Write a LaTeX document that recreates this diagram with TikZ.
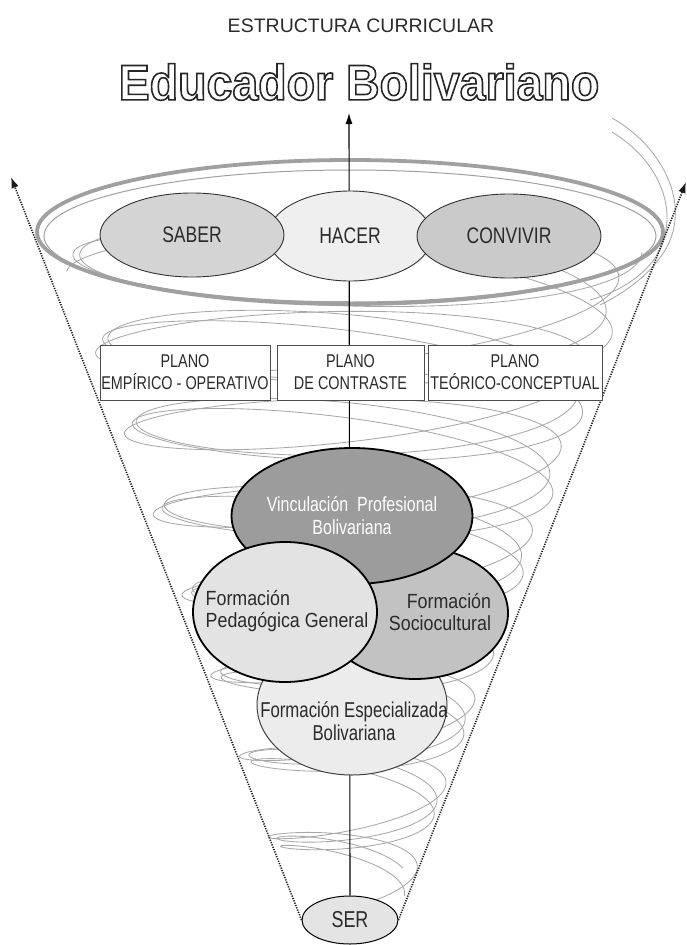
\documentclass[tikz,border=0pt]{standalone}
\usepackage{fontspec}
\setmainfont{Liberation Sans}
\newfontfamily\nar[FakeStretch=0.78]{Liberation Sans}
\newfontfamily\semi[FakeStretch=0.87]{Liberation Sans}
\newfontfamily\bigf[FakeStretch=0.93]{Liberation Sans}
\usetikzlibrary{shapes.geometric,arrows.meta}
\definecolor{txt}{HTML}{2B2B2B}
\definecolor{spc}{HTML}{A8A8A8}
\definecolor{ringc}{HTML}{A0A0A0}
\definecolor{saberc}{HTML}{D4D4D4}
\definecolor{hacerc}{HTML}{EFEFEF}
\definecolor{convc}{HTML}{CACACA}
\definecolor{vincc}{HTML}{9C9C9C}
\definecolor{pedc}{HTML}{E3E3E3}
\definecolor{socc}{HTML}{C2C2C2}
\definecolor{espc}{HTML}{ECECEC}
\definecolor{serc}{HTML}{E4E4E4}
\begin{document}
\begin{tikzpicture}[x=1pt,y=-1pt,
  declare function={hr(\t)=292-0.0825*\t; hy(\t)=232+0.2292*\t;},
  spir/.style={draw=spc, line width=0.85pt},
  topov/.style={ellipse, draw=black!80, line width=0.9pt, inner sep=0pt, text=txt,
     font=\nar\fontsize{22.5}{24}\selectfont},
  planbox/.style={rectangle, draw=black!70, line width=0.9pt, fill=white, inner sep=0pt,
     minimum height=55, align=center, text=txt, font=\nar\fontsize{18.5}{22}\selectfont},
  bigov/.style={ellipse, draw=black, line width=1.8pt, inner sep=0pt},
  lbl/.style={inner sep=0pt, text=txt, font=\semi\fontsize{20.5}{21.5}\selectfont},
  dotl/.style={draw=black!90, line width=1.6pt, dash pattern=on 1.2pt off 1.3pt,
     -{Latex[length=11pt,width=7.5pt]}},
  mainl/.style={draw=black, line width=1.1pt, -{Latex[length=11pt,width=7pt]}}
]
\useasboundingbox (0,0) rectangle (687,945);
\fill[white] (0,0) rectangle (687,945);

% spiral strands (tilted helices)
\draw[spir] plot[domain=0:2880, samples=700, smooth, variable=\t]
  ({350+hr(\t)*cos(\t)}, {hy(\t)+(0.17*hr(\t)+5)*sin(\t)+0.07*hr(\t)*cos(\t)});
\draw[spir] plot[domain=0:2800, samples=700, smooth, variable=\t]
  ({350+0.97*hr(\t)*cos(\t+180)}, {hy(\t)+22+(0.16*hr(\t)+5)*sin(\t+180)-0.06*hr(\t)*cos(\t+180)});
\draw[spir] plot[domain=0:2760, samples=700, smooth, variable=\t]
  ({350+0.95*hr(\t)*cos(\t+90)}, {hy(\t)+10+(0.19*hr(\t)+4)*sin(\t+90)+0.03*hr(\t)*cos(\t+90)});
\draw[spir] (612,118) .. controls (660,145) and (690,200) .. (668,245)
  .. controls (655,270) and (630,290) .. (600,305);
\draw[spir] (612,132) .. controls (655,158) and (680,205) .. (660,250)
  .. controls (648,272) and (625,290) .. (590,300);

% ring
\draw[ringc, line width=3.8pt] (350,232) ellipse [x radius=313, y radius=72];
\draw[ringc, line width=1pt] (350,236) ellipse [x radius=306, y radius=66];

% SER and axes
\node[ellipse, draw=black, line width=1pt, fill=serc, inner sep=0pt,
  minimum width=96, minimum height=48, text=txt,
  font=\nar\fontsize{23}{24}\selectfont] (ser) at (350,920) {SER};
\coordinate (tl) at (11,177);
\coordinate (tr) at (686,182);
\coordinate (tt) at (349,113);
\draw[dotl] (ser.west) -- (tl);
\draw[dotl] (ser.east) -- (tr);
\draw[mainl] (ser.north) -- (tt);

% top ellipses
\node[topov, fill=hacerc, minimum width=164, minimum height=90] (hacer) at (350,236) {HACER};
\node[topov, fill=saberc, minimum width=184, minimum height=84] (saber) at (192,235) {SABER};
\node[topov, fill=convc, minimum width=184, minimum height=84] (conv) at (509,236) {CONVIVIR};

% planes
\node[planbox, minimum width=170] (p1) at (185,372.5) {PLANO\\EMPÍRICO - OPERATIVO};
\node[planbox, minimum width=147] (p2) at (350.5,372.5) {PLANO\\DE CONTRASTE};
\node[planbox, minimum width=174] (p3) at (515,372.5) {PLANO\\TEÓRICO-CONCEPTUAL};

% circles
\node[ellipse, draw=black!75, line width=1pt, fill=espc, inner sep=0pt,
  minimum width=190, minimum height=140] (esp) at (352,705) {};
\node[bigov, fill=socc, minimum width=186, minimum height=132] (soc) at (415,613) {};
\node[bigov, fill=vincc, minimum width=190, minimum height=136, text=white, align=center,
  font=\nar\fontsize{20.5}{23}\selectfont] (vinc) at (352,516) {Vinculación\ \ Profesional\\Bolivariana};
\node[bigov, fill=pedc, minimum width=184, minimum height=140] (ped) at (285,612) {};

\node[lbl, align=left] (pedT) at (287,611) {Formación\\Pedagógica General};
\node[lbl, align=right] (socT) at (440,612) {Formación\\Sociocultural};
\node[inner sep=0pt, text=txt, align=center, font=\nar\fontsize{21.5}{23}\selectfont]
  (espT) at (354,721) {Formación Especializada\\Bolivariana};

% titles
\node[inner sep=0pt, text=txt, font=\fontsize{19.5}{22}\selectfont] (t1) at (361,26)
  {ESTRUCTURA CURRICULAR};
\node[inner sep=0pt, text=black!85, font=\bigf\bfseries\fontsize{50}{54}\selectfont] (t2) at (359,82)
  {\special{pdf:literal direct 1 Tr 1.6 w}Educador Bolivariano\special{pdf:literal direct 0 Tr}};
\end{tikzpicture}
\end{document}
